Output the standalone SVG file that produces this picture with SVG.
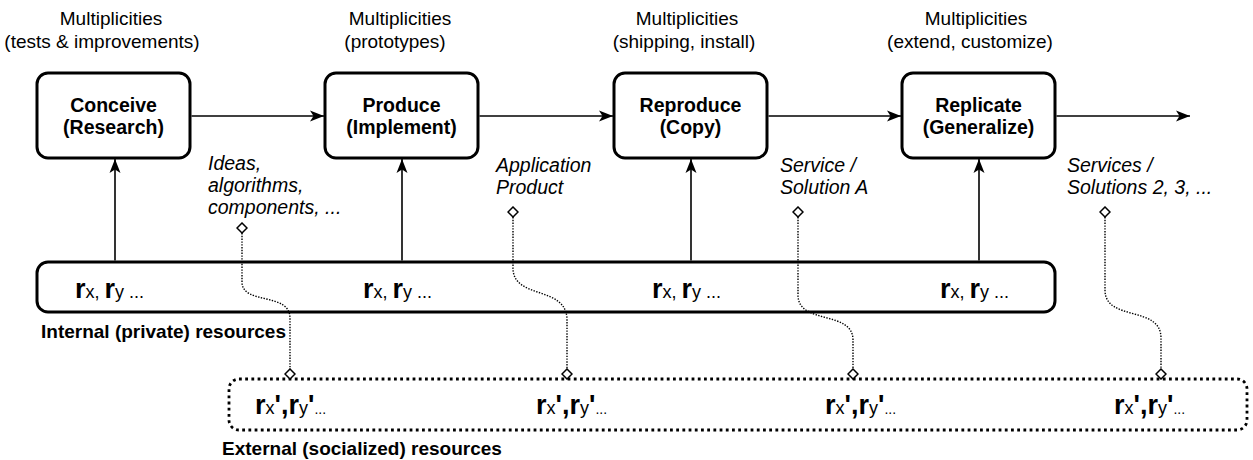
<svg xmlns="http://www.w3.org/2000/svg" width="1253" height="460" viewBox="0 0 1253 460">
<style>
text{font-family:"Liberation Sans",Arial,Helvetica,sans-serif;fill:#000}
.head{font-size:19px;text-anchor:middle}
.lbl{font-size:19.5px;font-weight:bold;text-anchor:middle}
.it{font-size:19.5px;font-style:italic}
.cap{font-size:19px;font-weight:bold}
.big{font-size:27px;font-weight:bold}
.sm{font-size:18px}
.dots{font-size:14px}
.box{fill:#fff;stroke:#000;stroke-width:3}
.ext{fill:#fff;stroke:#000;stroke-width:2.8;stroke-dasharray:2.8 3.4}
.arr{fill:none;stroke:#000;stroke-width:1.6;marker-end:url(#arrow)}
.dot{fill:none;stroke:#000;stroke-width:1.4;stroke-dasharray:1.4 1.4;marker-start:url(#dia);marker-end:url(#dia)}
</style>
<defs>
<marker id="arrow" viewBox="0 0 14 12" refX="14" refY="6" markerWidth="14" markerHeight="12" markerUnits="userSpaceOnUse" orient="auto">
<path d="M0,0.5 L14,6 L0,11.5 L3.5,6 Z" fill="#000"/>
</marker>
<marker id="dia" viewBox="-1 -1 12 12" refX="0" refY="5" markerWidth="12" markerHeight="12" markerUnits="userSpaceOnUse" orient="auto-start-reverse">
<path d="M0,5 L5,0 L10,5 L5,10 Z" fill="#fff" stroke="#000" stroke-width="1.5"/>
</marker>
</defs>
<rect width="1253" height="460" fill="#fff"/>

<g id="headings">
<text class="head" x="111" y="25">Multiplicities</text>
<text class="head" x="102" y="48">(tests &amp; improvements)</text>
<text class="head" x="400" y="25">Multiplicities</text>
<text class="head" x="395" y="48">(prototypes)</text>
<text class="head" x="687" y="25">Multiplicities</text>
<text class="head" x="684" y="48">(shipping, install)</text>
<text class="head" x="976" y="25">Multiplicities</text>
<text class="head" x="970" y="48">(extend, customize)</text>
</g>

<g id="internal">
<rect class="box" x="37" y="262" width="1018" height="50" rx="11"/>
<text x="75" y="298"><tspan class="big">r</tspan><tspan class="sm">x, </tspan><tspan class="big">r</tspan><tspan class="sm">y ...</tspan></text>
<text x="363" y="298"><tspan class="big">r</tspan><tspan class="sm">x, </tspan><tspan class="big">r</tspan><tspan class="sm">y ...</tspan></text>
<text x="652" y="298"><tspan class="big">r</tspan><tspan class="sm">x, </tspan><tspan class="big">r</tspan><tspan class="sm">y  ...</tspan></text>
<text x="940" y="298"><tspan class="big">r</tspan><tspan class="sm">x, </tspan><tspan class="big">r</tspan><tspan class="sm">y ...</tspan></text>
<text class="cap" x="41" y="338">Internal (private) resources</text>
</g>

<g id="external">
<rect class="ext" x="229" y="379" width="1018" height="51" rx="10"/>
<text x="255" y="414"><tspan class="big">r</tspan><tspan class="sm">x</tspan><tspan class="big">',r</tspan><tspan class="sm">y</tspan><tspan class="big">'</tspan><tspan class="dots">...</tspan></text>
<text x="536" y="414"><tspan class="big">r</tspan><tspan class="sm">x</tspan><tspan class="big">',r</tspan><tspan class="sm">y</tspan><tspan class="big">'</tspan><tspan class="dots">...</tspan></text>
<text x="825" y="414"><tspan class="big">r</tspan><tspan class="sm">x</tspan><tspan class="big">',r</tspan><tspan class="sm">y</tspan><tspan class="big">'</tspan><tspan class="dots">...</tspan></text>
<text x="1114" y="414"><tspan class="big">r</tspan><tspan class="sm">x</tspan><tspan class="big">',r</tspan><tspan class="sm">y</tspan><tspan class="big">'</tspan><tspan class="dots">...</tspan></text>
<text class="cap" x="222" y="455">External (socialized) resources</text>
</g>

<g id="conceive">
<rect class="box" x="37" y="73" width="153" height="85" rx="11"/>
<text class="lbl" x="113.5" y="112">Conceive</text>
<text class="lbl" x="113.5" y="134">(Research)</text>
</g>
<g id="produce">
<rect class="box" x="325" y="73" width="153" height="85" rx="11"/>
<text class="lbl" x="401.5" y="112">Produce</text>
<text class="lbl" x="401.5" y="134">(Implement)</text>
</g>
<g id="reproduce">
<rect class="box" x="614" y="73" width="153" height="85" rx="11"/>
<text class="lbl" x="690.5" y="112">Reproduce</text>
<text class="lbl" x="690.5" y="134">(Copy)</text>
</g>
<g id="replicate">
<rect class="box" x="902" y="73" width="153" height="85" rx="11"/>
<text class="lbl" x="978.5" y="112">Replicate</text>
<text class="lbl" x="978.5" y="134">(Generalize)</text>
</g>

<g id="labels">
<text class="it" x="208" y="170">Ideas,</text>
<text class="it" x="208" y="192">algorithms,</text>
<text class="it" x="208" y="214">components, ...</text>
<text class="it" x="496" y="172">Application</text>
<text class="it" x="496" y="194">Product</text>
<text class="it" x="780" y="172">Service /</text>
<text class="it" x="780" y="194">Solution A</text>
<text class="it" x="1067" y="172">Services /</text>
<text class="it" x="1067" y="194">Solutions 2, 3, ...</text>
</g>

<g id="connectors">
<path class="arr" d="M191.5,116 L324,116"/>
<path class="arr" d="M479.5,116 L613,116"/>
<path class="arr" d="M768.5,116 L901,116"/>
<path class="arr" d="M1056.5,116 L1190,116"/>
<path class="arr" d="M115,260.5 L115,159"/>
<path class="arr" d="M402,260.5 L402,159"/>
<path class="arr" d="M691,260.5 L691,159"/>
<path class="arr" d="M979,260.5 L979,159"/>
<path class="dot" d="M242,233 L242,282 C242,305 290,292 290,318 L290,369"/>
<path class="dot" d="M513,217 L513,268 C513,300 567,285 567,320 L567,369"/>
<path class="dot" d="M798,217 L798,295 C798,325 853,310 853,340 L853,369"/>
<path class="dot" d="M1105,217 L1105,290 C1105,322 1161,305 1161,338 L1161,369"/>
</g>
</svg>
